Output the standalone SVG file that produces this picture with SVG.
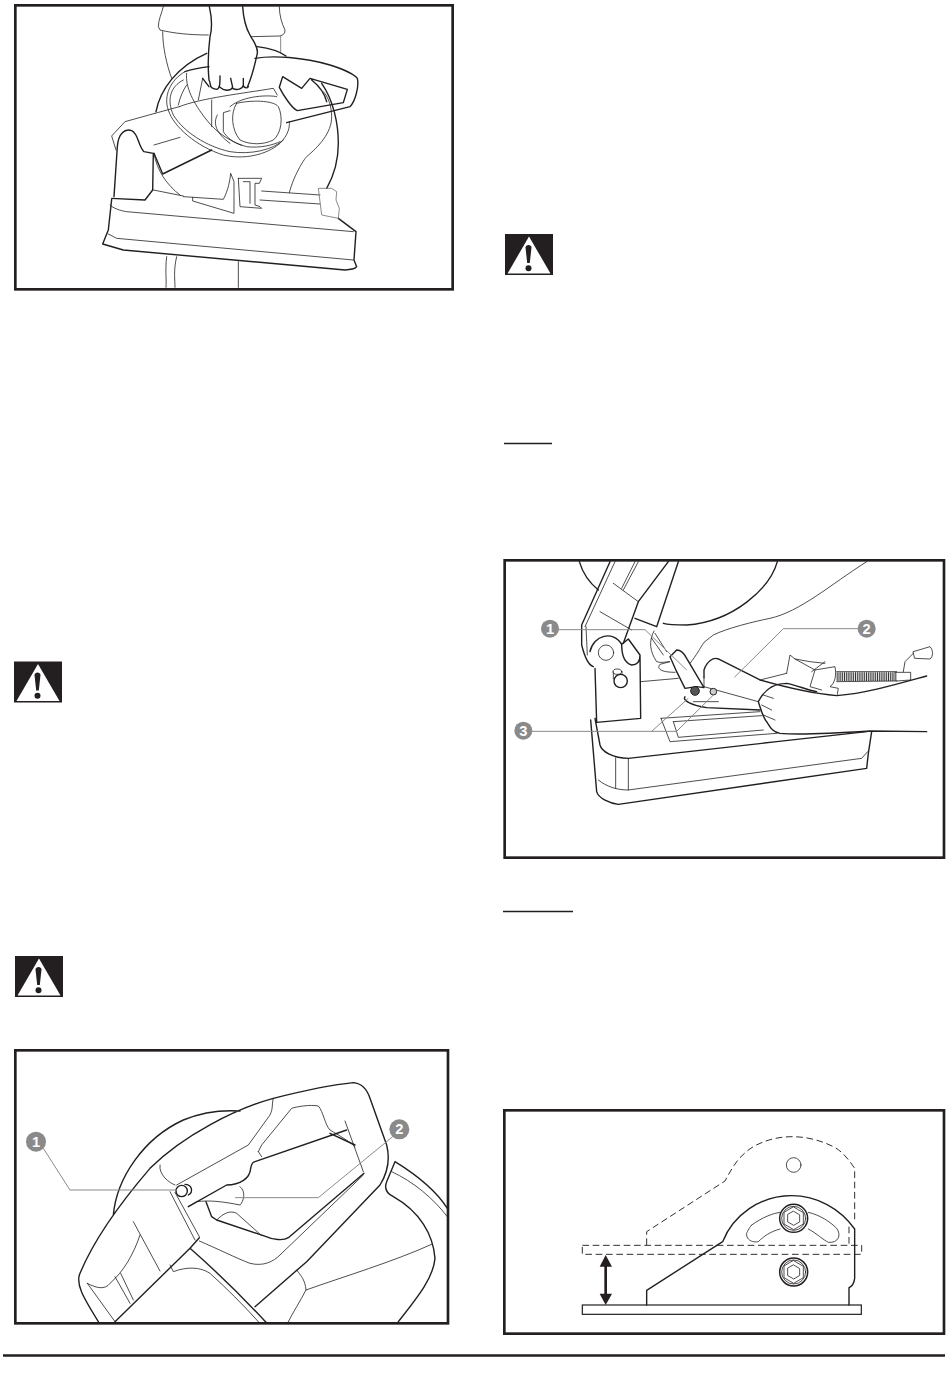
<svg xmlns="http://www.w3.org/2000/svg" width="950" height="1392" viewBox="0 0 950 1392">
<style>
.f{fill:none;stroke:#231f20;stroke-width:8}
.k{fill:none;stroke:#231f20;stroke-width:4.2;stroke-linejoin:round;stroke-linecap:round}
.t{fill:none;stroke:#231f20;stroke-width:2.4;stroke-linejoin:round;stroke-linecap:round}
.g{fill:none;stroke:#777;stroke-width:2.6;stroke-linejoin:round}
.l{fill:none;stroke:#8a8a8a;stroke-width:3;stroke-linejoin:round}
.d{fill:none;stroke:#231f20;stroke-width:2.8;stroke-dasharray:20 11}
.c{fill:#8a8a8a}
.n{fill:#fff;font-family:"Liberation Sans",Arial,sans-serif;font-weight:700;font-size:44px;text-anchor:middle}
</style>
<defs>
<g id="warn"><rect width="48" height="41" fill="#231f20"/><polygon points="24,2.5 45.5,39.5 2.5,39.5" fill="#fff"/><path d="M20.5,13.5C20.5,10 26.5,10 26.5,13.5L24.8,29h-2.6Z" fill="#231f20"/><circle cx="23.5" cy="34.3" r="3" fill="#231f20"/></g>
</defs>
<rect width="950" height="1392" fill="#fff"/>
<use href="#warn" x="505" y="234"/>
<use href="#warn" x="14" y="661.500"/>
<use href="#warn" x="15" y="956"/>
<path d="M504,443.500H552M503,911.500H573" stroke="#231f20" stroke-width="1.300" fill="none"/>
<path d="M3,1355.500H945" stroke="#231f20" stroke-width="2.600" fill="none"/>

<g id="panel-carry" transform="translate(10,0) scale(.33333)">
<rect class="f" x="16" y="16" width="1312" height="852"/>
<path class="t" d="M460,20C455,40 445,60 445,80L450,90C490,100 540,105 595,105M458,95C458,140 470,195 485,235M808,20C808,45 815,70 825,90C826,100 820,105 810,108L722,110"/>
<path class="g" d="M812,108V158"/>
<path class="k" d="M598,20C605,50 608,80 600,110C595,150 592,190 597,240M698,20C700,50 705,80 720,105C730,125 745,140 742,160C735,190 730,220 712,262M597,240C605,255 595,265 620,268C630,265 630,250 630,228M630,262C640,272 660,275 668,262L662,235M668,265C680,272 698,268 700,255L700,235M700,258C705,265 712,265 715,260"/>
<path class="k" d="M438,335C450,270 500,200 590,160M742,140C780,145 810,155 828,168M935,250C970,300 985,370 985,430C985,480 970,530 950,565"/>
<path class="t" d="M432,460C440,510 470,555 510,585M838,578C850,530 880,480 890,470C925,440 965,400 965,350C965,320 955,290 940,275"/>
<path class="k" d="M735,175C790,165 880,172 960,195C1000,208 1030,220 1042,235C1048,260 1035,305 1020,320L830,368M808,262L818,230L875,265L900,235L1012,268L1000,308L862,332C845,325 820,285 808,262ZM905,240C930,260 945,285 950,305M597,200C560,205 540,210 525,215"/>
<path class="t" d="M525,215C480,240 460,290 475,330C490,380 560,440 640,465C700,480 770,465 810,430C835,405 840,380 838,365M520,240C480,260 470,300 490,345C520,395 590,440 660,455C720,465 790,450 820,420M530,220C525,260 550,310 590,360C620,400 670,430 710,440C750,445 790,435 810,425"/>
<path class="t" d="M508,320C570,295 700,280 790,265L802,285M680,310C720,300 790,300 805,320C820,350 815,400 790,420C760,435 720,435 690,420C665,390 660,340 680,310ZM660,320C700,285 780,285 800,290M660,332L640,338L640,395C650,412 670,428 695,436M622,345C608,370 618,400 660,430M605,300V380"/>
<path class="t" d="M435,340L345,365L305,408L318,450M435,340L508,320M432,435L510,412M565,300L578,235M505,315C510,290 520,270 530,255"/>
<path class="k" d="M432,460L458,522L605,450M578,235L597,260M312,590L322,440C325,400 345,385 365,392C385,400 385,440 402,455L430,460L428,570L405,600L305,595"/>
<path class="k" d="M305,598L295,690L278,732L340,750L1005,810C1025,808 1035,808 1040,800L1032,780L1038,695L985,655"/>
<path class="t" d="M300,615C310,625 330,632 350,635L1030,695M295,702L320,715L1030,780M430,570L520,588M520,590L640,598C655,570 660,540 662,520L672,545V640L548,603V592M685,535H755L748,550H735V615L750,620L755,625L690,620L685,535M700,545H720V610M755,573L930,585M750,600L930,612"/>
<path class="g" d="M925,565H965L980,575L978,600L988,625L985,655L935,645Z"/>
<path class="t" d="M470,770C465,810 470,840 468,862M500,770C490,810 495,840 495,862M685,785V862"/>
</g>

<g id="panel-handle" transform="translate(10,1045) scale(.33333)">
<rect class="f" x="16" y="16" width="1298" height="819"/>
<path class="k" d="M208,690C240,610 300,510 420,370C520,270 680,190 790,160C870,140 960,120 1030,113C1055,115 1070,130 1080,160L1130,300C1140,340 1135,380 1110,420L890,650L735,785M208,690C200,720 215,750 265,830M315,830L540,610L568,578M540,610C620,680 720,780 768,832M310,510C320,400 400,280 520,225C580,200 640,195 690,198"/>
<path class="k" d="M735,350L1010,255M960,265L1035,300M1062,385L835,578C820,588 790,585 760,572L620,525L605,515L588,470M535,485L650,420C690,420 720,400 722,370C725,355 730,350 735,350M1130,410C1122,430 1130,445 1150,455C1230,500 1270,570 1275,640C1270,700 1220,760 1165,830M1130,410L1155,350C1220,390 1280,440 1312,490"/>
<path class="t" d="M480,660L490,680C530,665 570,665 600,685C650,730 700,780 745,830M1005,228L1060,380M690,425C710,440 700,470 690,480C640,470 600,465 560,470L535,485M500,420L715,300L780,210C790,190 785,175 790,160M450,360C445,390 480,415 495,420M745,320L755,335M745,320L755,300L845,190C860,185 900,178 925,183C940,200 945,240 960,255C985,270 1020,290 1035,305M568,588C620,610 680,640 720,655C760,665 790,650 810,630L1060,390M620,525C640,505 660,495 680,505L755,572"/>
<circle class="k" cx="515" cy="438" r="17"/><path class="k" d="M525,418C545,418 552,440 535,450"/>
<path class="t" d="M480,440L555,585M495,442L568,575M370,530L450,678M232,715C260,730 285,735 300,715C340,680 370,630 390,570M232,715L315,830M315,695L360,775M332,685L370,765M1145,380C1210,410 1270,460 1312,515M860,675C875,695 885,705 888,735C870,770 850,800 835,830M888,735C1000,695 1150,650 1265,598"/>
<path class="l" d="M100,310L180,435H500M1148,275L925,458H675"/>
<circle class="c" cx="78" cy="290" r="30"/><text class="n" x="78" y="305">1</text>
<circle class="c" cx="1168" cy="253" r="30"/><text class="n" x="1168" y="268">2</text>
</g>

<g id="panel-vise" transform="translate(500,555) scale(.33333)">
<rect class="f" x="14" y="16" width="1318" height="892"/>
<path class="k" d="M238,20C250,60 270,85 295,105M832,20C810,100 700,200 560,210C530,210 500,208 490,205"/>
<path class="k" d="M330,20L245,210V270C255,310 265,330 280,335M415,140L370,265M415,140L505,20M535,20L470,215M405,190L470,215"/>
<path class="t" d="M345,20L255,215M340,85L415,140M415,20L370,105M405,20L365,100M300,170L395,225M258,215L262,300"/>
<path class="k" d="M270,290C280,240 340,225 365,268L385,252L420,300L422,490L290,502L285,340M365,268C365,300 375,325 395,330C410,330 420,320 420,300"/>
<circle class="t" cx="318" cy="293" r="23"/><circle class="k" cx="362" cy="378" r="20"/><ellipse class="t" cx="352" cy="350" rx="13" ry="8"/><path class="t" d="M340,350V372M366,350V358"/>
<path class="t" d="M422,380L535,370M462,228C445,260 450,290 470,320C480,325 500,320 510,320L480,328C470,340 480,352 525,352M455,250L490,300M465,235L500,290"/>
<path class="k" d="M510,305L530,285C545,285 555,300 560,310L612,398L590,395L555,400L530,350Z"/>
<path class="t" d="M612,395L775,440M612,395V368M580,440L655,440M1100,20C990,90 900,170 810,190C760,200 680,220 640,240L612,262C600,280 590,300 570,325"/>
<circle cx="585" cy="408" r="13" fill="#555" stroke="#231f20" stroke-width="3"/><circle cx="640" cy="410" r="10" fill="#ccc" stroke="#231f20" stroke-width="3"/>
<path class="k" d="M555,425C545,435 575,452 620,458L780,465"/>
<path class="k" d="M612,368L612,345C620,320 640,305 655,312L780,375C850,395 930,415 1010,422C1100,415 1200,385 1280,363"/>
<path class="t" d="M860,355L870,300L885,312L945,345L1005,335C1010,360 1005,385 990,395L1015,400L1012,418M885,312L930,320L975,325M945,345L930,395L965,405M780,375L860,355M935,350L975,320"/>
<path stroke="#333" stroke-width="26" stroke-dasharray="3 2.500" fill="none" d="M1010,365H1190"/>
<path class="t" d="M1010,350L1190,350M1010,380L1190,378M1185,352H1232V375L1190,378M1210,350L1215,320L1240,295M1240,290L1290,275C1300,285 1300,305 1290,312L1245,310Z"/>
<path class="k" d="M775,440C790,410 815,385 860,385C890,390 920,405 950,410M775,440C785,470 790,490 800,500C810,515 815,530 840,535C900,540 1000,535 1110,528L1280,530"/>
<path class="t" d="M790,420L820,430M785,450L815,465M790,480L825,495M483,490L510,560L830,535M483,490L780,470M520,500L535,547L790,525M520,500L785,482"/>
<path class="k" d="M285,490L300,570C305,590 340,610 385,610L830,560L1100,530M272,495L290,710C295,730 330,745 355,748L1100,640L1105,595L1115,530"/>
<path class="t" d="M385,610V705M347,608V700M295,675C320,695 350,705 385,705L1085,610L1103,590"/>
<path class="l" d="M175,224H435L560,345M1075,221H850L703,367M95,529H530L640,420M455,529L565,430"/>
<circle class="c" cx="150" cy="221" r="27"/><text class="n" x="150" y="236">1</text>
<circle class="c" cx="1100" cy="221" r="27"/><text class="n" x="1100" y="236">2</text>
<circle class="c" cx="70" cy="527" r="27"/><text class="n" x="70" y="542">3</text>
</g>

<g id="panel-fence" transform="translate(500,1105) scale(.33333)">
<rect class="f" x="13" y="16" width="1319" height="670"/>
<rect x="247" y="600" width="837" height="28" fill="none" stroke="#231f20" stroke-width="3.600"/>
<path class="k" d="M440,600V556L668,410C700,330 780,272 875,272C950,272 1020,310 1064,372V520C1062,535 1055,545 1047,548V600"/>
<path class="d" d="M440,420V380L675,228C700,180 720,150 760,125C830,85 920,85 1000,125C1030,140 1050,170 1064,190V350M1047,365V420"/>
<rect class="d" x="247" y="421" width="838" height="27"/>
<path class="t" d="M755,360C790,335 820,325 840,322M925,322C960,330 990,350 1010,370C1025,390 1015,415 985,412C970,405 950,385 925,372M840,372C810,380 790,395 775,410C750,415 730,395 745,375C748,370 750,365 755,360"/>
<circle class="t" cx="881" cy="180" r="22"/>
<g id="bolt-upper"><circle cx="881" cy="340" r="42" fill="#fff" stroke="#231f20" stroke-width="4.500"/><circle class="t" cx="881" cy="340" r="36"/><polygon class="t" points="881,306 910,323 910,357 881,374 852,357 852,323"/><polygon class="t" points="881,319 899,329.500 899,350.500 881,361 863,350.500 863,329.500"/></g>
<g id="bolt-lower"><circle cx="881" cy="501" r="42" fill="#fff" stroke="#231f20" stroke-width="4.500"/><circle class="t" cx="881" cy="501" r="36"/><polygon class="t" points="881,467 910,484 910,518 881,535 852,518 852,484"/><polygon class="t" points="881,480 899,490.500 899,511.500 881,522 863,511.500 863,490.500"/></g>
<path d="M317,480V570" stroke="#231f20" stroke-width="8" fill="none"/>
<polygon points="317,450 336,485 299,485" fill="#231f20"/><polygon points="317,600 336,566 299,566" fill="#231f20"/>
</g>
</svg>
